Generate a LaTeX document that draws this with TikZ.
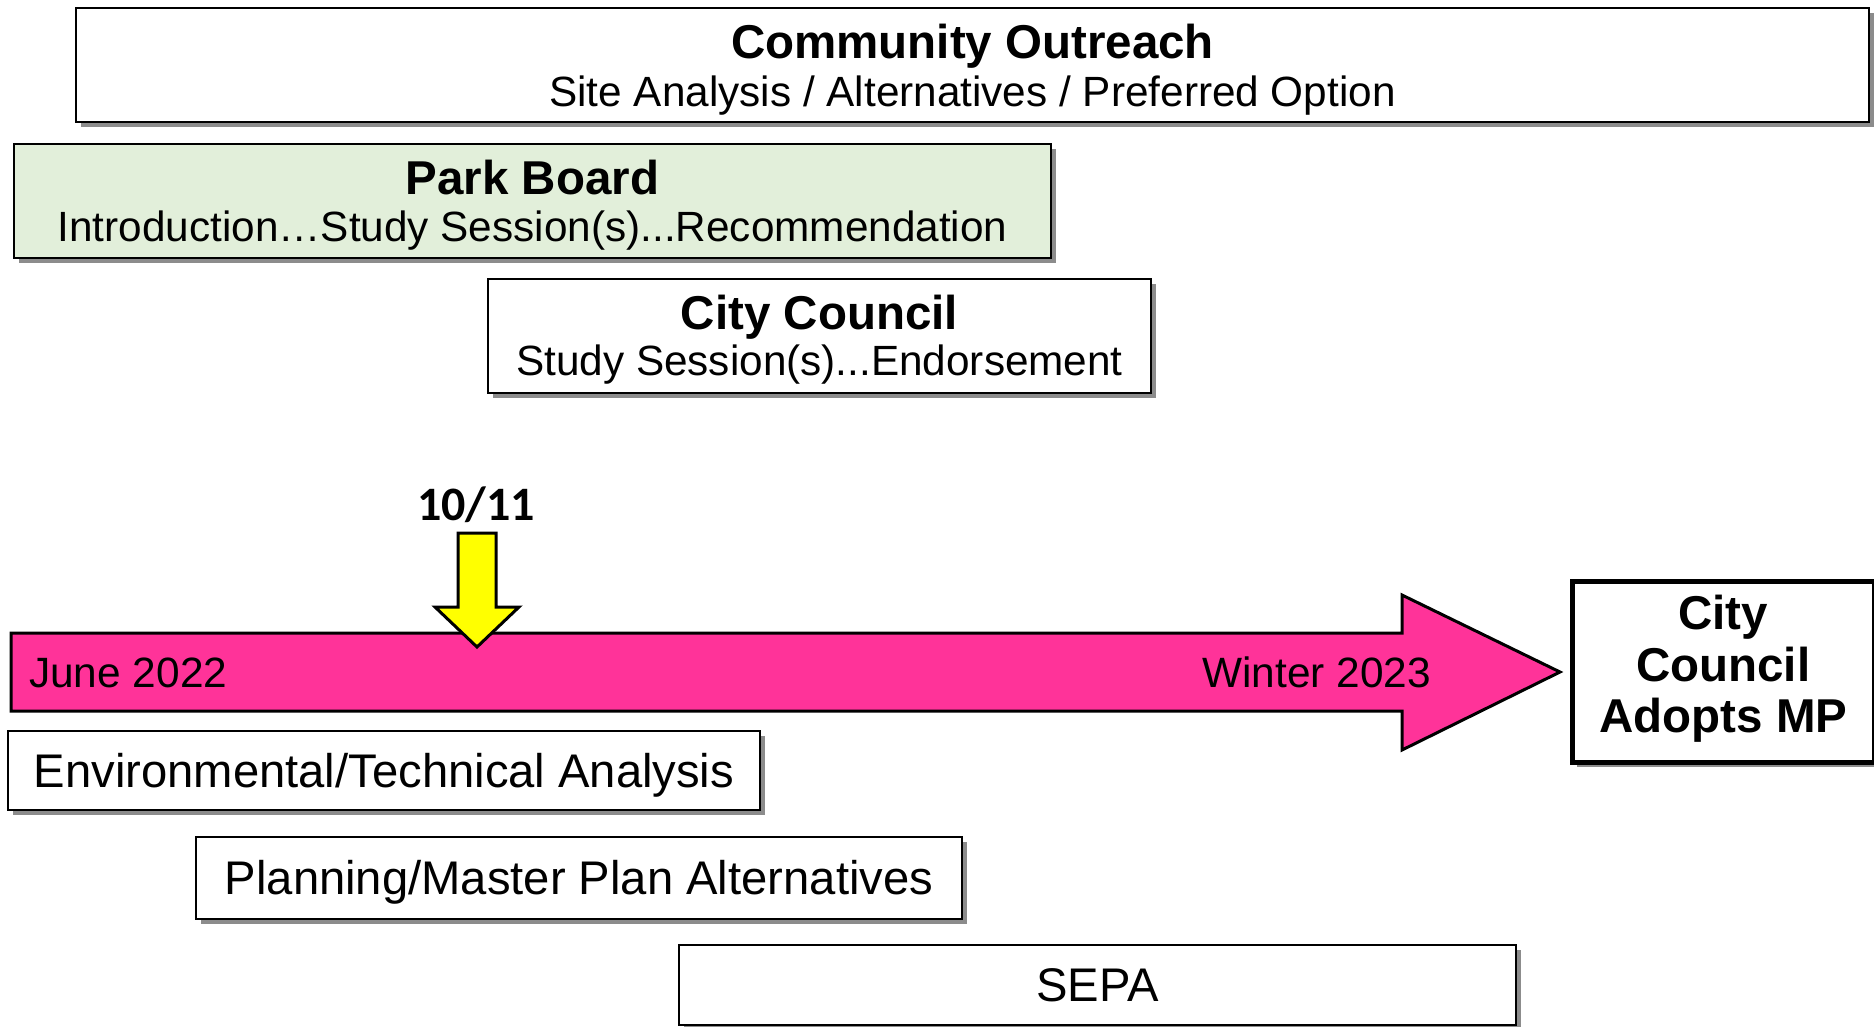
\documentclass[tikz,border=0pt]{standalone}
\usepackage{fontspec}
\setmainfont{Liberation Sans}
\newfontfamily\carlito{Carlito}
\usetikzlibrary{shadows,calc}
\definecolor{pinkc}{HTML}{FF3399}
\definecolor{greenc}{HTML}{E2EFDA}
\definecolor{shadowc}{HTML}{8C8C8C}
\definecolor{yellowc}{HTML}{FFFF00}
\begin{document}
\begin{tikzpicture}[x=1pt,y=-1pt,
  box/.style={draw=black, line width=2pt, fill=white, inner sep=0pt, anchor=north west,
    drop shadow={shadow xshift=5pt, shadow yshift=-5pt, fill=shadowc, opacity=1}},
  bigtxt/.style={font=\fontsize{47.5}{50}\selectfont\bfseries, anchor=base, inner sep=0pt},
  subtxt/.style={font=\fontsize{42.3}{46}\selectfont, anchor=base, inner sep=0pt},
  midtxt/.style={font=\fontsize{47.2}{50}\selectfont, anchor=base, inner sep=0pt},
  datetxt/.style={font=\fontsize{42.4}{46}\selectfont, inner sep=0pt},
  timeline/.style={draw=black, line width=3pt, fill=pinkc, line join=miter},
  marker/.style={draw=black, line width=3pt, fill=yellowc, line join=miter}]
\useasboundingbox (0,0) rectangle (1874,1026);

% upper boxes
\node[box, minimum width=1793pt, minimum height=114pt] (co) at (75,7) {};
\node[bigtxt] (cot) at ($(co.north)+(0,51)$) {Community Outreach};
\node[subtxt] (cos) at ($(co.north)+(0,99)$) {Site Analysis / Alternatives / Preferred Option};

\node[box, fill=greenc, minimum width=1037pt, minimum height=114pt] (pb) at (13,143) {};
\node[bigtxt] (pbt) at ($(pb.north)+(0,51)$) {Park Board};
\node[subtxt] (pbs) at ($(pb.north)+(0,98)$) {Introduction…Study Session(s)...Recommendation};

\node[box, minimum width=663pt, minimum height=114pt] (cc) at (487,278) {};
\node[bigtxt] (cct) at ($(cc.north)+(0,51)$) {City Council};
\node[subtxt] (ccs) at ($(cc.north)+(0,97)$) {Study Session(s)...Endorsement};

% timeline arrow
\draw[timeline] (11,633) -- (1402,633) -- (1402,595) -- (1560,672) -- (1402,750) -- (1402,711) -- (11,711) -- cycle;
\node[datetxt, anchor=base west] (start) at (29,687) {June 2022};
\node[datetxt, anchor=base east] (end) at (1431,687) {Winter 2023};

% marker
\draw[marker] (458,533) -- (496,533) -- (496,607) -- (519,607) -- (477,647) -- (435,607) -- (458,607) -- cycle;
\node[font=\fontsize{48}{50}\selectfont\carlito\bfseries, anchor=base, inner sep=0pt] (mark) at (476,520) {10/11};

% adoption box
\node[box, line width=4.5pt, minimum width=302pt, minimum height=181pt] (ad) at (1570,579) {};
\node[bigtxt] (ad1) at ($(ad.north)+(0,50.5)$) {City};
\node[bigtxt] (ad2) at ($(ad.north)+(0,102)$) {Council};
\node[bigtxt] (ad3) at ($(ad.north)+(0,153.5)$) {Adopts MP};

% lower boxes
\node[box, minimum width=752pt, minimum height=79pt] (env) at (7,730) {};
\node[midtxt] (envt) at ($(env.north)+(0,57)$) {Environmental/Technical Analysis};

\node[box, minimum width=766pt, minimum height=82pt] (plan) at (195,836) {};
\node[midtxt] (plant) at ($(plan.north)+(0,58)$) {Planning/Master Plan Alternatives};

\node[box, minimum width=837pt, minimum height=80pt] (sepa) at (678,944) {};
\node[midtxt] (sepat) at ($(sepa.north)+(0,57)$) {SEPA};
\end{tikzpicture}
\end{document}
